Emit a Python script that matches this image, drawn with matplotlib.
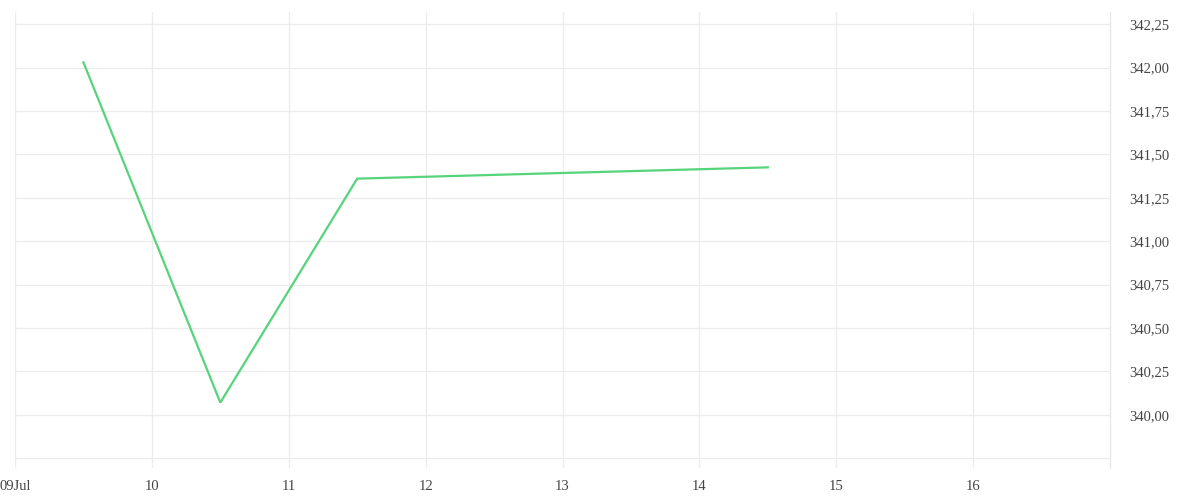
import matplotlib
matplotlib.use("Agg")
import matplotlib.pyplot as plt

# Data (x = day of July, noon points)
days = [9.5, 10.5, 11.5, 14.5]
prices = [342.03, 340.07, 341.36, 341.425]

x_ticks = [9, 10, 11, 12, 13, 14, 15, 16]
x_labels = ["09Jul", "10", "11", "12", "13", "14", "15", "16"]
y_ticks = [340.00, 340.25, 340.50, 340.75, 341.00, 341.25, 341.50, 341.75, 342.00, 342.25]

plt.rcParams["font.family"] = ["Liberation Serif", "DejaVu Serif"]

fig = plt.figure(figsize=(12, 5), dpi=100)
ax = fig.add_axes([0.0125, 0.064, 0.9125, 0.912])

ax.plot(days, prices, color="#55d47b", linewidth=1.6, solid_joinstyle="miter")

ax.set_xlim(9, 17)
ax.set_ylim(339.693, 342.32)

ax.set_xticks(x_ticks)
ax.set_xticklabels(x_labels)
ax.set_yticks(y_ticks + [339.75])
ax.set_yticklabels([f"{v:.2f}".replace(".", ",") for v in y_ticks] + [""])

ax.yaxis.tick_right()
ax.tick_params(axis="x", length=0, labelsize=10.5, labelcolor="#444444", pad=9)
ax.tick_params(axis="y", length=0, labelsize=10.5, labelcolor="#444444", pad=14)

ax.grid(True, color="#ececec", linewidth=0.9)
ax.set_axisbelow(True)
for side in ["top", "left", "bottom"]:
    ax.spines[side].set_visible(False)
ax.spines["right"].set_color("#e6e6e6")
ax.spines["right"].set_linewidth(0.9)

plt.savefig("out.png", dpi=100)
